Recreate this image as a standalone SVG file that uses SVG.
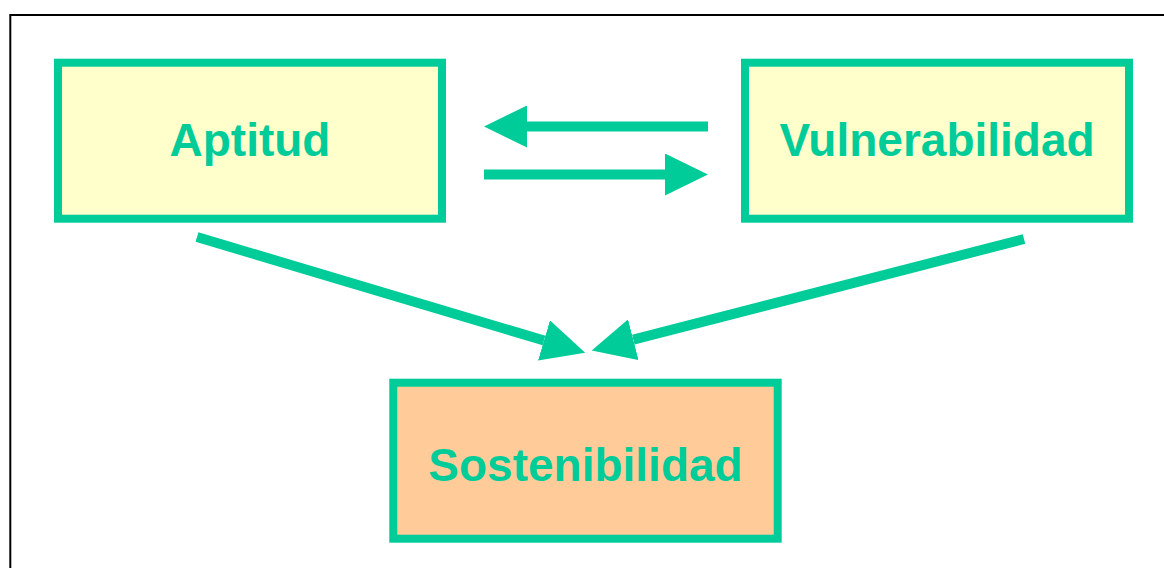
<svg xmlns="http://www.w3.org/2000/svg" width="1164" height="568" viewBox="0 0 1164 568">
<style>
.box{stroke:#00CC99;stroke-width:8}
.yel{fill:#FFFFCC}
.org{fill:#FFCC99}
.lbl{font-family:"Liberation Sans",Arial,sans-serif;font-weight:bold;font-size:46px;fill:#00CC99;text-anchor:middle}
.con{stroke:#00CC99;stroke-width:10;fill:none;marker-end:url(#ah)}
</style>
<defs>
<marker id="ah" markerUnits="userSpaceOnUse" markerWidth="43" markerHeight="42" viewBox="0 0 43 42" refX="0" refY="21" orient="auto">
<path d="M0,0 L43,21 L0,42 z" fill="#00CC99"/>
</marker>
</defs>
<rect width="1164" height="568" fill="#FFFFFF"/>
<path d="M10.3,568 V15 H1164" fill="none" stroke="#000000" stroke-width="2"/>
<g id="aptitud">
<rect class="box yel" x="58" y="62.7" width="384" height="156"/>
<text class="lbl" x="250" y="155.5">Aptitud</text>
</g>
<g id="vulnerabilidad">
<rect class="box yel" x="745" y="62.7" width="384" height="156"/>
<text class="lbl" x="937" y="155.5">Vulnerabilidad</text>
</g>
<g id="sostenibilidad">
<rect class="box org" x="393.3" y="382.7" width="384.4" height="156"/>
<text class="lbl" x="585.5" y="481">Sostenibilidad</text>
</g>
<g id="connectors">
<path class="con" d="M708,126.5 H527"/>
<path class="con" d="M484,174.5 H665"/>
<path class="con" d="M197,237 L544,340.5"/>
<path class="con" d="M1024,239 L633.3,339.7"/>
</g>
</svg>
